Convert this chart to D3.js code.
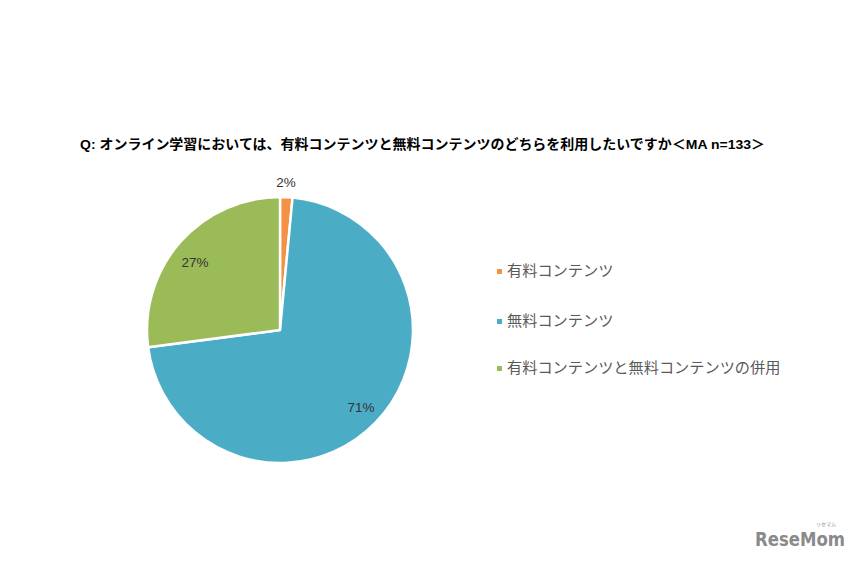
<!DOCTYPE html>
<html><head><meta charset="utf-8">
<script src="https://cdn.jsdelivr.net/npm/d3@7"></script>
<style>body{margin:0;background:#fff}</style>
</head><body>
<script>
const categories = ["有料コンテンツ", "無料コンテンツ", "有料コンテンツと無料コンテンツの併用"];
const values = [2, 95, 36];
const labels = ["2%", "71%", "27%"];
const colors = ["#F39244", "#4BACC6", "#9BBB59"];
const title = "Q:  オンライン学習においては、有料コンテンツと無料コンテンツのどちらを利用したいですか＜MA n=133＞";

const W = 865, H = 564;
const svg = d3.select("body").append("svg").attr("width", W).attr("height", H)
  .style("font-family", "'Liberation Sans','Noto Sans CJK JP',sans-serif");

svg.append("text").attr("x", 80).attr("y", 149).attr("font-size", 13.5).attr("font-weight", "bold")
  .attr("fill", "#000").attr("textLength", 685).attr("lengthAdjust", "spacingAndGlyphs").text(title);

const cx = 280, cy = 330, r = 133;
const pie = d3.pie().sort(null).value(d => d);
const arcs = pie(values);
const arc = d3.arc().innerRadius(0).outerRadius(r);
const g = svg.append("g").attr("transform", `translate(${cx},${cy})`);
g.selectAll("path").data(arcs).join("path")
  .attr("d", arc).attr("fill", (d, i) => colors[i])
  .attr("stroke", "#fff").attr("stroke-width", 2.5).attr("stroke-linejoin", "round");

const labelPos = [[6, -147], [81, 78], [-85, -67]];
g.selectAll("text.lbl").data(arcs).join("text").attr("class", "lbl")
  .attr("x", (d, i) => labelPos[i][0]).attr("y", (d, i) => labelPos[i][1])
  .attr("text-anchor", "middle").attr("dominant-baseline", "middle")
  .attr("font-size", 13.5).attr("fill", "#333").text((d, i) => labels[i]);

const lg = svg.append("g");
const legendY = [272, 322, 369];
categories.forEach((c, i) => {
  lg.append("rect").attr("x", 497).attr("y", legendY[i] - 3).attr("width", 5).attr("height", 5).attr("fill", colors[i]);
  lg.append("text").attr("x", 507).attr("y", legendY[i]).attr("dominant-baseline", "middle")
    .attr("font-size", 15.2).attr("fill", "#595959").text(c);
});

svg.append("text").attr("x", 800).attr("y", 546).attr("text-anchor", "middle")
  .attr("font-size", 20).attr("font-weight", "bold").attr("fill", "#8a8a8a")
  .attr("font-family", "'DejaVu Sans',sans-serif").attr("textLength", 90).attr("lengthAdjust", "spacingAndGlyphs").text("ReseMom");
svg.append("text").attr("x", 826).attr("y", 526).attr("text-anchor", "middle")
  .attr("font-size", 5).attr("fill", "#8a8a8a").text("リセマム");
</script>
</body></html>
